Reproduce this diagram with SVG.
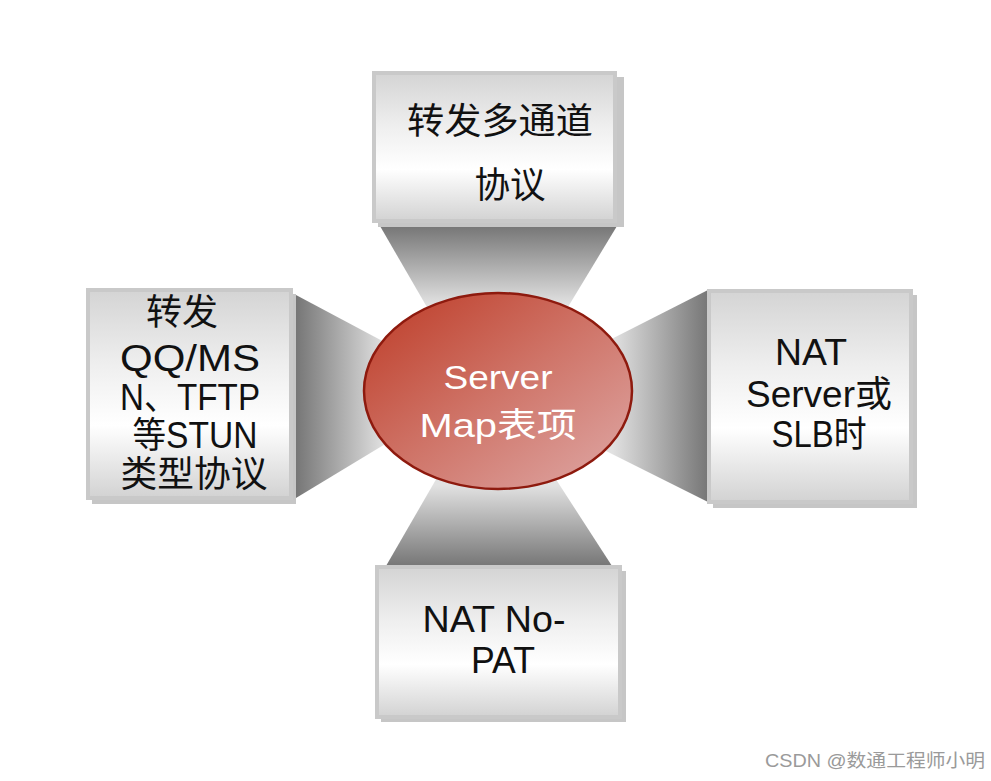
<svg xmlns="http://www.w3.org/2000/svg" width="991" height="781" viewBox="0 0 991 781">
<defs>
<linearGradient id="boxFill" x1="0" y1="0" x2="0" y2="1">
<stop offset="0" stop-color="#d4d4d4"/>
<stop offset="0.35" stop-color="#eeeeee"/>
<stop offset="0.65" stop-color="#ffffff"/>
<stop offset="1" stop-color="#d2d2d2"/>
</linearGradient>
<linearGradient id="ellFill" x1="0" y1="0" x2="1" y2="1">
<stop offset="0" stop-color="#bd3a25"/>
<stop offset="0.5" stop-color="#cf7468"/>
<stop offset="1" stop-color="#dfaaa8"/>
</linearGradient>
<linearGradient id="gTop" gradientUnits="userSpaceOnUse" x1="0" y1="226" x2="0" y2="305">
<stop offset="0" stop-color="#767676"/>
<stop offset="1" stop-color="#e2e2e2"/>
</linearGradient>
<linearGradient id="gBottom" gradientUnits="userSpaceOnUse" x1="0" y1="566" x2="0" y2="485">
<stop offset="0" stop-color="#767676"/>
<stop offset="1" stop-color="#e2e2e2"/>
</linearGradient>
<linearGradient id="gLeft" gradientUnits="userSpaceOnUse" x1="296" y1="0" x2="385" y2="0">
<stop offset="0" stop-color="#767676"/>
<stop offset="1" stop-color="#e2e2e2"/>
</linearGradient>
<linearGradient id="gRight" gradientUnits="userSpaceOnUse" x1="708" y1="0" x2="612" y2="0">
<stop offset="0" stop-color="#767676"/>
<stop offset="1" stop-color="#e2e2e2"/>
</linearGradient>
</defs>
<style>
.shadow { fill: #c6c6c6; }
.box { fill: url(#boxFill); stroke: #c9c9c9; stroke-width: 4; }
.t { font-family: "Liberation Sans", "Noto Sans CJK SC", sans-serif; font-size: 36px; fill: #111111; text-anchor: middle; }
.tc { font-family: "Liberation Sans", "Noto Sans CJK SC", sans-serif; font-size: 34px; fill: #ffffff; text-anchor: middle; }
.wm { font-family: "Liberation Sans", "Noto Sans CJK SC", sans-serif; font-size: 18px; fill: #9a9a9a; }
</style>
<rect width="991" height="781" fill="#ffffff"/>
<g id="connectors">
<polygon points="380,226 617,226 548,340 446,340" fill="url(#gTop)"/>
<polygon points="386,566 612,566 537,450 453,450" fill="url(#gBottom)"/>
<polygon points="296,295 296,498 420,423 420,361" fill="url(#gLeft)"/>
<polygon points="708,290 708,502 580,438 580,355" fill="url(#gRight)"/>
</g>
<g id="node-top">
<rect class="shadow" x="378" y="77" width="246" height="150"/>
<rect class="box" x="374" y="73" width="241" height="148"/>
<text class="t" x="500" y="134" textLength="186" lengthAdjust="spacingAndGlyphs">转发多通道</text>
<text class="t" x="510" y="198" textLength="71" lengthAdjust="spacingAndGlyphs">协议</text>
</g>
<g id="node-left">
<rect class="shadow" x="92" y="294" width="204" height="210"/>
<rect class="box" x="88" y="290" width="203" height="208"/>
<text class="t" x="182" y="325" textLength="72" lengthAdjust="spacingAndGlyphs">转发</text>
<text class="t" x="190" y="371" textLength="140" lengthAdjust="spacingAndGlyphs">QQ/MS</text>
<text class="t" x="190" y="410" textLength="140" lengthAdjust="spacingAndGlyphs">N、TFTP</text>
<text class="t" x="195" y="448" textLength="125" lengthAdjust="spacingAndGlyphs">等STUN</text>
<text class="t" x="194" y="487" textLength="147" lengthAdjust="spacingAndGlyphs">类型协议</text>
</g>
<g id="node-right">
<rect class="shadow" x="713" y="295" width="204" height="213"/>
<rect class="box" x="709" y="291" width="202" height="211"/>
<text class="t" x="811" y="365" textLength="72" lengthAdjust="spacingAndGlyphs">NAT</text>
<text class="t" x="819" y="407" textLength="146" lengthAdjust="spacingAndGlyphs">Server或</text>
<text class="t" x="819" y="447" textLength="95" lengthAdjust="spacingAndGlyphs">SLB时</text>
</g>
<g id="node-bottom">
<rect class="shadow" x="381" y="571" width="245" height="151"/>
<rect class="box" x="377" y="567" width="243" height="150"/>
<text class="t" x="494" y="632" textLength="143" lengthAdjust="spacingAndGlyphs">NAT No-</text>
<text class="t" x="503" y="673" textLength="64" lengthAdjust="spacingAndGlyphs">PAT</text>
</g>
<g id="node-center">
<ellipse cx="498" cy="391" rx="134" ry="98" fill="url(#ellFill)" stroke="#8e1a0e" stroke-width="2.5"/>
<text class="tc" x="498" y="389" textLength="109" lengthAdjust="spacingAndGlyphs">Server</text>
<text class="tc" x="498" y="437" textLength="157" lengthAdjust="spacingAndGlyphs">Map表项</text>
</g>
<text class="wm" x="765" y="767" textLength="220" lengthAdjust="spacingAndGlyphs">CSDN @数通工程师小明</text>
</svg>
